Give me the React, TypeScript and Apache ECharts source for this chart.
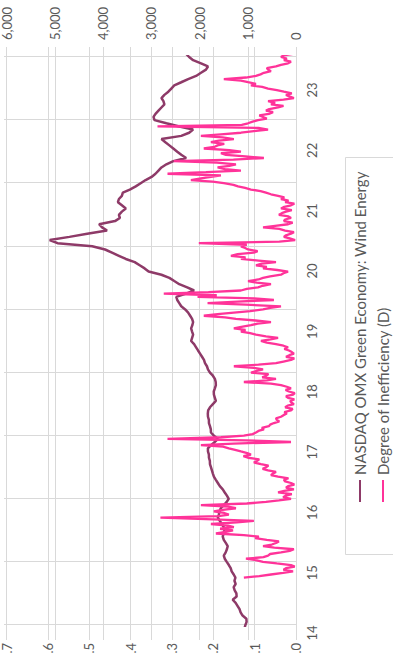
import React, { useEffect, useRef } from "react";
import * as echarts from "echarts";

// Chart is laid out in landscape (665 x 393) and turned a quarter turn counter-clockwise.
const CHART_W = 665;
const CHART_H = 393;

const windName = "NASDAQ OMX Green Economy: Wind Energy";
const inefficiencyName = "Degree of Inefficiency (D)";

// Sampling of both series, in years
const windStart = 2013.8;
const windStep = 0.05;
const inefficiencyStart = 2014.75;
const inefficiencyStep = 0.025;

// Year gridlines and year tick labels
const gridYears = [2014, 2023];
const yearLabels = ["14", "15", "16", "17", "18", "19", "20", "21", "22", "23"];

// NASDAQ OMX Green Economy: Wind Energy index level
const windIndex = [
  895, 955, 1015, 1057, 1040, 1015, 1020, 1098, 1138, 1160,
  1199, 1240, 1301, 1220, 1225, 1260, 1281, 1240, 1265, 1245,
  1280, 1322, 1342, 1380, 1423, 1464, 1484, 1445, 1420, 1403,
  1443, 1484, 1505, 1490, 1470, 1484, 1525, 1565, 1606, 1586,
  1570, 1545, 1484, 1423, 1382, 1420, 1464, 1505, 1565, 1606,
  1647, 1687, 1708, 1728, 1748, 1768, 1770, 1789, 1790, 1809,
  1810, 1748, 1667, 1606, 1687, 1748, 1750, 1768, 1789, 1790,
  1809, 1812, 1805, 1768, 1708, 1647, 1667, 1687, 1690, 1667,
  1647, 1650, 1667, 1708, 1768, 1809, 1830, 1870, 1891, 1931,
  1972, 2013, 2053, 2094, 2155, 2135, 2114, 2135, 2155, 2130,
  2114, 2135, 2175, 2216, 2277, 2358, 2399, 2440, 2460, 2257,
  2094, 2236, 2399, 2501, 2602, 2765, 3029, 3110, 3212, 3314,
  3497, 3639, 3781, 3924, 4188, 4900, 5062, 4656, 4290, 3883,
  3985, 4046, 3720, 3619, 3639, 3578, 3497, 3578, 3659, 3639,
  3578, 3558, 3415, 3293, 3192, 3090, 2968, 2887, 2826, 2765,
  2663, 2521, 2257, 2358, 2440, 2521, 2602, 2684, 2765, 2358,
  2196, 2114, 2399, 2663, 2907, 2928, 2887, 2826, 2765, 2704,
  2724, 2765, 2704, 2623, 2562, 2501, 2358, 2216, 2053, 1952,
  1850, 1809, 1952, 2114, 2196, 2257, 2297,
];

// Degree of Inefficiency (D)
const inefficiency = [
  0.125, 0.088, 0.06, 0.031, 0.007, 0.03, 0.024, 0.003, 0.012, 0.046,
  0.079, 0.094, 0.12, 0.078, 0.067, 0.062, 0.036, 0.015, 0.005, 0.052,
  0.079, 0.058, 0.048, 0.041, 0.07, 0.098, 0.089, 0.125, 0.192, 0.168,
  0.151, 0.182, 0.149, 0.163, 0.204, 0.142, 0.101, 0.198, 0.325, 0.186,
  0.161, 0.172, 0.197, 0.176, 0.144, 0.163, 0.228, 0.118, 0.072, 0.041,
  0.012, 0.031, 0.024, 0.01, 0.043, 0.028, 0.005, 0.024, 0.019, 0.004,
  0.012, 0.026, 0.029, 0.018, 0.043, 0.06, 0.055, 0.048, 0.067, 0.08,
  0.072, 0.066, 0.084, 0.101, 0.094, 0.088, 0.115, 0.126, 0.108, 0.117,
  0.132, 0.146, 0.161, 0.175, 0.228, 0.15, 0.012, 0.12, 0.308, 0.18,
  0.125, 0.104, 0.096, 0.09, 0.077, 0.082, 0.065, 0.062, 0.053, 0.04,
  0.046, 0.048, 0.036, 0.03, 0.022, 0.028, 0.012, 0.008, 0.026, 0.02,
  0.005, 0.011, 0.014, 0.004, 0.019, 0.024, 0.007, 0.003, 0.017, 0.025,
  0.012, 0.022, 0.036, 0.06, 0.125, 0.07, 0.048, 0.081, 0.072, 0.066,
  0.108, 0.094, 0.079, 0.101, 0.149, 0.09, 0.048, 0.03, 0.012, 0.004,
  0.024, 0.016, 0.005, 0.01, 0.017, 0.028, 0.019, 0.03, 0.048, 0.07,
  0.084, 0.061, 0.043, 0.072, 0.096, 0.11, 0.132, 0.121, 0.149, 0.131,
  0.108, 0.092, 0.06, 0.097, 0.144, 0.17, 0.221, 0.188, 0.149, 0.11,
  0.079, 0.062, 0.036, 0.12, 0.212, 0.14, 0.053, 0.1, 0.236, 0.19,
  0.317, 0.21, 0.132, 0.118, 0.091, 0.08, 0.06, 0.094, 0.115, 0.09,
  0.079, 0.062, 0.036, 0.03, 0.019, 0.045, 0.079, 0.07, 0.096, 0.082,
  0.048, 0.09, 0.132, 0.121, 0.156, 0.14, 0.101, 0.092, 0.115, 0.122,
  0.132, 0.118, 0.233, 0.04, 0.002, 0.015, 0.029, 0.024, 0.012, 0.005,
  0.026, 0.04, 0.079, 0.05, 0.019, 0.008, 0.029, 0.026, 0.012, 0.018,
  0.041, 0.034, 0.024, 0.01, 0.036, 0.028, 0.012, 0.004, 0.026, 0.018,
  0.036, 0.028, 0.043, 0.06, 0.072, 0.085, 0.108, 0.122, 0.139, 0.15,
  0.173, 0.2, 0.252, 0.228, 0.204, 0.18, 0.308, 0.216, 0.132, 0.17,
  0.188, 0.16, 0.144, 0.19, 0.293, 0.15, 0.077, 0.121, 0.168, 0.18,
  0.132, 0.16, 0.221, 0.196, 0.188, 0.172, 0.204, 0.185, 0.149, 0.176,
  0.228, 0.18, 0.132, 0.101, 0.067, 0.09, 0.332, 0.13, 0.115, 0.104,
  0.091, 0.07, 0.079, 0.088, 0.065, 0.055, 0.072, 0.064, 0.043, 0.03,
  0.06, 0.05, 0.067, 0.03, 0.005, 0.016, 0.024, 0.01, 0.029, 0.046,
  0.067, 0.081, 0.108, 0.096, 0.115, 0.132, 0.173, 0.12, 0.096, 0.085,
  0.077, 0.06, 0.067, 0.07, 0.048, 0.036, 0.019, 0.012, 0.029, 0.022,
  0.036, 0.03, 0.007, 0.026, 0.06,
];

const FONT = 'Lato, "Open Sans", sans-serif';
const TEXT = "#595959";
const GRID_LINE = "#d9d9d9";
const WIND_COLOR = "#8e3a68";
const D_COLOR = "#ff3399";

const withThousands = (v: number) =>
  String(Math.round(v)).replace(/\B(?=(\d{3})+(?!\d))/g, ",");

export default function App() {
  const ref = useRef<HTMLDivElement>(null);

  useEffect(() => {
    if (!ref.current) return;
    const chart = echarts.init(ref.current, null, {
      renderer: "svg",
      width: CHART_W,
      height: CHART_H,
    });

    const windData = windIndex.map((v, i) => [windStart + i * windStep, v]);
    const dData = inefficiency.map((v, i) => [inefficiencyStart + i * inefficiencyStep, v]);

    const plotTop = 4;
    const plotBottom = 97;

    chart.setOption({
      animation: false,
      backgroundColor: "#ffffff",
      grid: [
        // value axes and their gridlines
        { left: 25, right: 47, top: plotTop, bottom: plotBottom },
        // year gridlines and series
        { left: 40, right: 57, top: plotTop, bottom: plotBottom },
        // year tick labels
        { left: 32, right: 90, top: plotTop, bottom: plotBottom },
      ],
      xAxis: [
        { gridIndex: 0, type: "value", min: 0, max: 1, show: false },
        {
          gridIndex: 1,
          type: "value",
          min: gridYears[0],
          max: gridYears[1],
          interval: 1,
          axisLine: { show: false },
          axisTick: { show: false },
          axisLabel: { show: false },
          splitLine: { show: true, lineStyle: { color: GRID_LINE, width: 1 } },
        },
        {
          gridIndex: 2,
          type: "value",
          min: 14,
          max: 23,
          interval: 1,
          axisLine: { show: false },
          axisTick: { show: false },
          splitLine: { show: false },
          axisLabel: {
            show: true,
            margin: 9,
            color: TEXT,
            fontFamily: FONT,
            fontSize: 13,
            showMinLabel: true,
            showMaxLabel: true,
            formatter: (v: number) => yearLabels[Math.round(v) - 14] ?? "",
          },
        },
      ],
      yAxis: [
        {
          gridIndex: 0,
          type: "value",
          position: "left",
          min: 0,
          max: 0.7,
          interval: 0.1,
          axisLine: { show: false },
          axisTick: { show: false },
          splitLine: { show: true, lineStyle: { color: GRID_LINE, width: 1 } },
          axisLabel: {
            margin: 3,
            color: TEXT,
            fontFamily: FONT,
            fontSize: 13,
            formatter: (v: number) => v.toFixed(1).replace(/^0/, ""),
          },
        },
        {
          gridIndex: 0,
          type: "value",
          position: "right",
          min: 0,
          max: 6000,
          interval: 1000,
          axisLine: { show: false },
          axisTick: { show: false },
          splitLine: { show: true, lineStyle: { color: GRID_LINE, width: 1 } },
          axisLabel: {
            margin: 7,
            color: TEXT,
            fontFamily: FONT,
            fontSize: 13,
            formatter: withThousands,
          },
        },
        { gridIndex: 1, type: "value", min: 0, max: 0.7, show: false },
        { gridIndex: 1, type: "value", min: 0, max: 6000, show: false },
        { gridIndex: 2, type: "value", min: 0, max: 1, show: false },
      ],
      legend: {
        data: [windName, inefficiencyName],
        orient: "vertical",
        left: 163,
        top: 352.5,
        padding: 0,
        icon: "rect",
        itemWidth: 22,
        itemHeight: 2,
        itemGap: 8,
        textStyle: { color: TEXT, fontFamily: FONT, fontSize: 15, lineHeight: 15 },
      },
      graphic: [
        {
          type: "rect",
          z: 0,
          shape: { x: 110.5, y: 345.5, width: 397, height: 60 },
          style: { fill: "#ffffff", stroke: GRID_LINE, lineWidth: 1 },
        },
      ],
      series: [
        {
          name: windName,
          type: "line",
          xAxisIndex: 1,
          yAxisIndex: 3,
          data: windData,
          symbol: "none",
          clip: false,
          lineStyle: { color: WIND_COLOR, width: 2.5 },
          itemStyle: { color: WIND_COLOR },
        },
        {
          name: inefficiencyName,
          type: "line",
          xAxisIndex: 1,
          yAxisIndex: 2,
          data: dData,
          symbol: "none",
          clip: false,
          lineStyle: { color: D_COLOR, width: 2.3 },
          itemStyle: { color: D_COLOR },
        },
      ],
    });

    return () => chart.dispose();
  }, []);

  return (
    <div
      style={{
        position: "fixed",
        left: 0,
        top: 0,
        width: CHART_H,
        height: CHART_W,
        overflow: "hidden",
        background: "#ffffff",
      }}
    >
      <div
        ref={ref}
        style={{
          position: "absolute",
          left: 0,
          top: 0,
          width: CHART_W,
          height: CHART_H,
          transformOrigin: "0 0",
          transform: `translate(0px, ${CHART_W}px) rotate(-90deg)`,
        }}
      />
    </div>
  );
}
